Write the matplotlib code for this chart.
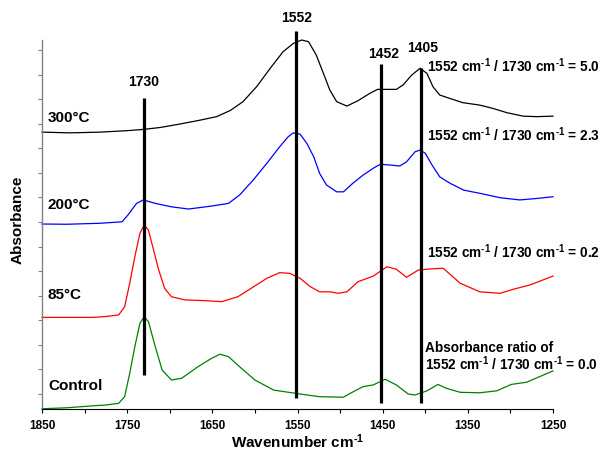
import matplotlib
matplotlib.use("Agg")
import matplotlib.pyplot as plt

plt.rcParams["font.family"] = ["Liberation Sans", "DejaVu Sans"]
plt.rcParams["font.weight"] = "bold"
plt.rcParams["mathtext.fontset"] = "custom"
plt.rcParams["mathtext.rm"] = "Liberation Sans:bold"
plt.rcParams["mathtext.default"] = "rm"

# FTIR spectra (stacked absorbance), wavenumbers in cm-1
wn_300 = [1850, 1817, 1782, 1750, 1731, 1711, 1688, 1664, 1645, 1629, 1614, 1598,
          1582, 1567, 1555, 1545, 1537, 1528, 1518, 1512, 1504, 1492, 1479, 1465,
          1456, 1445, 1434, 1426, 1416, 1406, 1398, 1391, 1383, 1371, 1356, 1336,
          1321, 1304, 1285, 1269, 1250]
abs_300 = [1.066, 1.063, 1.066, 1.072, 1.077, 1.085, 1.099, 1.115, 1.129, 1.154, 1.190, 1.251,
           1.326, 1.393, 1.427, 1.441, 1.434, 1.380, 1.291, 1.237, 1.190, 1.172, 1.194, 1.224,
           1.240, 1.240, 1.240, 1.258, 1.298, 1.326, 1.305, 1.251, 1.217, 1.203, 1.186, 1.176,
           1.163, 1.145, 1.131, 1.129, 1.131]

wn_200 = [1850, 1821, 1782, 1756, 1749, 1739, 1731, 1717, 1698, 1678, 1651, 1631,
          1618, 1602, 1586, 1571, 1561, 1555, 1547, 1539, 1531, 1524, 1516, 1504,
          1496, 1485, 1473, 1461, 1453, 1441, 1430, 1422, 1412, 1406, 1400, 1392,
          1383, 1371, 1355, 1336, 1312, 1289, 1269, 1250]
abs_200 = [0.692, 0.691, 0.695, 0.701, 0.729, 0.776, 0.790, 0.776, 0.762, 0.753, 0.765, 0.776,
           0.810, 0.871, 0.939, 1.006, 1.047, 1.063, 1.058, 1.020, 0.966, 0.898, 0.851, 0.823,
           0.823, 0.858, 0.891, 0.919, 0.935, 0.932, 0.928, 0.945, 0.986, 0.993, 0.980, 0.932,
           0.884, 0.858, 0.830, 0.817, 0.799, 0.790, 0.796, 0.803]

wn_85 = [1850, 1821, 1790, 1776, 1760, 1753, 1747, 1741, 1735, 1730, 1725, 1719,
         1713, 1706, 1698, 1682, 1659, 1639, 1620, 1600, 1586, 1571, 1559, 1547,
         1535, 1524, 1512, 1502, 1492, 1479, 1461, 1445, 1434, 1422, 1408, 1394,
         1379, 1359, 1336, 1312, 1297, 1277, 1250]
abs_85 = [0.312, 0.312, 0.312, 0.315, 0.322, 0.355, 0.451, 0.559, 0.654, 0.688, 0.667, 0.586,
          0.505, 0.430, 0.396, 0.383, 0.380, 0.376, 0.396, 0.440, 0.471, 0.494, 0.491, 0.471,
          0.437, 0.416, 0.416, 0.410, 0.416, 0.457, 0.480, 0.518, 0.508, 0.475, 0.505, 0.509,
          0.512, 0.451, 0.416, 0.410, 0.426, 0.444, 0.480]

wn_ctrl = [1850, 1821, 1790, 1776, 1760, 1753, 1747, 1741, 1735, 1730, 1725, 1717,
           1709, 1698, 1686, 1667, 1651, 1641, 1631, 1616, 1600, 1578, 1547, 1524,
           1496, 1488, 1473, 1461, 1447, 1434, 1420, 1412, 1398, 1385, 1375, 1359,
           1336, 1316, 1299, 1281, 1250]
abs_ctrl = [-0.060, -0.056, -0.048, -0.045, -0.038, -0.011, 0.084, 0.193, 0.288, 0.315, 0.294, 0.193,
            0.098, 0.057, 0.064, 0.111, 0.145, 0.162, 0.152, 0.105, 0.057, 0.016, 0.000, -0.011,
            -0.013, 0.003, 0.030, 0.037, 0.060, 0.037, 0.000, -0.004, 0.013, 0.039, 0.023, 0.007,
            0.005, 0.013, 0.039, 0.048, 0.094]

# Marker lines for band positions: (wavenumber, bottom, top)
band_pos = [1730, 1552, 1452, 1405]
band_bottom = [0.077, -0.016, -0.037, -0.037]
band_top = [1.205, 1.477, 1.343, 1.327]
band_label_y = [1.270, 1.530, 1.385, 1.408]
band_label_x = [1731, 1551, 1449, 1403]

series = [
    (wn_300, abs_300, "black", "300°C", 1.123),
    (wn_200, abs_200, "#0000ff", "200°C", 0.769),
    (wn_85, abs_85, "#ff0000", "85°C", 0.403),
    (wn_ctrl, abs_ctrl, "#008000", "Control", 0.033),
]

ratio_fmt = "1552 cm$^{{\\text{{-}}1}}$ / 1730 cm$^{{\\text{{-}}1}}$ = {}"
ratio_text = [
    (ratio_fmt.format("5.0"), 1.335),
    (ratio_fmt.format("2.3"), 1.054),
    (ratio_fmt.format("0.2"), 0.578),
    ("Absorbance ratio of", 0.187),
    (ratio_fmt.format("0.0"), 0.122),
]

fig = plt.figure(figsize=(6.04, 4.51), dpi=100)
ax = fig.add_axes([42 / 604, 42 / 451, 511 / 604, 369 / 451])

for wn, ab, col, name, ly in series:
    ax.plot(wn, ab, color=col, lw=0.9, clip_on=False)
    ax.text(1843, ly, name, fontsize=11, fontweight="bold", ha="left", va="center")

for pos, b, t, lx, ly in zip(band_pos, band_bottom, band_top, band_label_x, band_label_y):
    ax.plot([pos, pos], [b, t], color="black", lw=2.3, clip_on=False, solid_capstyle="butt")
    ax.text(lx, ly, str(pos), fontsize=10, fontweight="bold", ha="center", va="center")

ratio_x = [1398, 1398, 1398, 1400, 1400]
for (txt, ty), tx in zip(ratio_text, ratio_x):
    ax.text(tx, ty, txt, fontsize=9.8, fontweight="bold", ha="left", va="center", clip_on=False)

ax.set_xlim(1850, 1250)
ax.set_ylim(-0.061, 1.441)
ax.set_xticks([1850, 1750, 1650, 1550, 1450, 1350, 1250])
ax.set_xticks([1800, 1700, 1600, 1500, 1400, 1300], minor=True)
ax.set_yticks([i / 10 for i in range(15)])
ax.set_yticklabels([])
ax.tick_params(axis="x", which="both", direction="out", length=3, width=0.8,
               labelsize=8.5, pad=5, color="black")
ax.tick_params(axis="y", direction="out", length=3, width=0.8, color="#808080")
for lab in ax.get_xticklabels():
    lab.set_fontweight("bold")

for side in ("top", "right"):
    ax.spines[side].set_visible(False)
ax.spines["left"].set_color("#808080")
ax.spines["left"].set_linewidth(1.0)
ax.spines["bottom"].set_color("black")
ax.spines["bottom"].set_linewidth(0.8)

fig.text(298 / 604, 1 - 448 / 451, "Wavenumber cm$^{\\text{-}1}$", fontsize=11, fontweight="bold",
         ha="center", va="baseline")
fig.text(18 / 604, 1 - 220 / 451, "Absorbance", fontsize=11, fontweight="bold",
         ha="center", va="center", rotation=90)

fig.savefig("out.png", dpi=100)
